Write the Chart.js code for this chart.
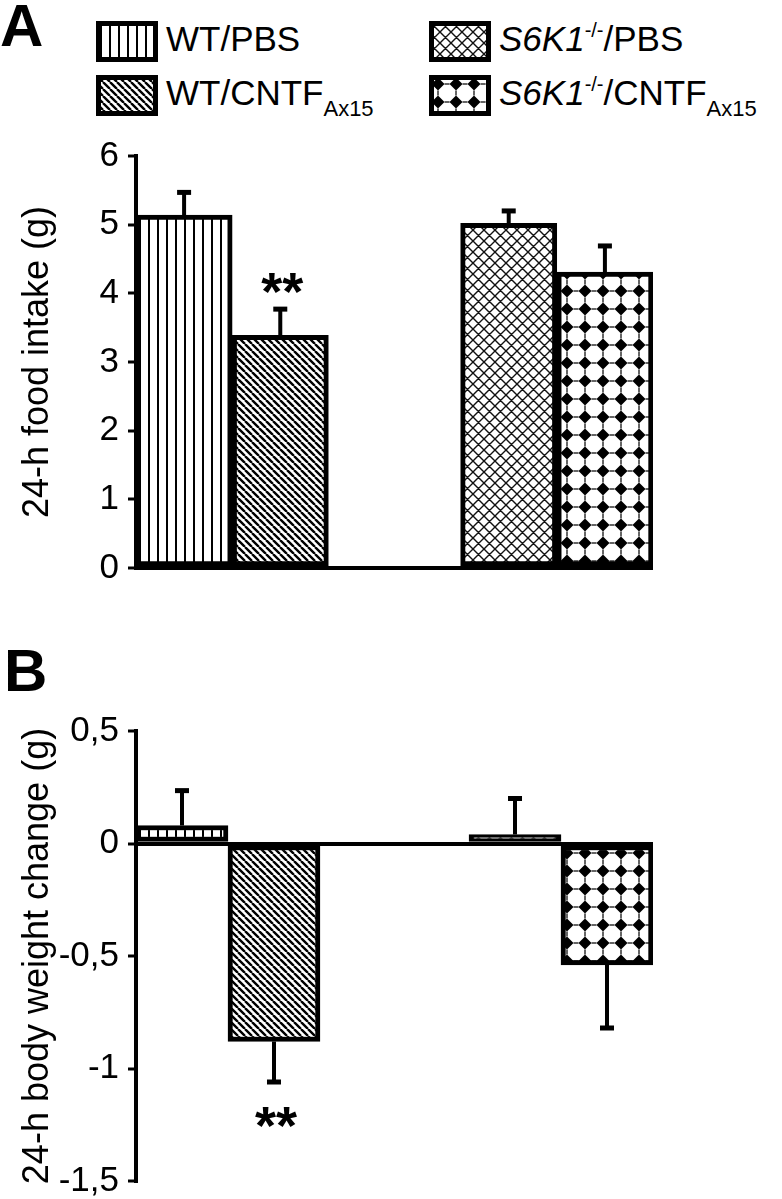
<!DOCTYPE html>
<html>
<head>
<meta charset="utf-8">
<script src="https://cdn.jsdelivr.net/npm/chart.js@4.4.1/dist/chart.umd.min.js"></script>
<style>
  html, body { margin: 0; padding: 0; background: #fff; }
  body { width: 782px; height: 1199px; position: relative; overflow: hidden;
         font-family: "Liberation Sans", Arial, sans-serif; color: #000; }
  .panel { position: absolute; font-weight: bold; font-size: 60px; line-height: 60px; }
  .key { position: absolute; }
  .lab { position: absolute; font-size: 35px; line-height: 35px; white-space: nowrap; }
  .lab sub { font-size: 22px; position: relative; top: 11px; vertical-align: baseline; }
  .lab sup { font-size: 20px; position: relative; top: -14px; vertical-align: baseline; }
  #chartA { position: absolute; left: 0; top: 120px; }
  #chartB { position: absolute; left: 0; top: 700px; }
</style>
</head>
<body>
<div class="panel" style="left:0px; top:-4px;">A</div>
<div class="panel" style="left:4px; top:641px;">B</div>
<div id="legend"></div>
<canvas id="chartA" width="782" height="500"></canvas>
<canvas id="chartB" width="782" height="520"></canvas>
<script>
// groups, in bar order
const groupLabels = [
  'WT/PBS',
  'WT/CNTF<sub>Ax15</sub>',
  '<i>S6K1</i><sup>-/-</sup>/PBS',
  '<i>S6K1</i><sup>-/-</sup>/CNTF<sub>Ax15</sub>'
];

// A: 24-h food intake (g), mean and SEM
const intakeMeans = [5.14, 3.39, 5.02, 4.31];
const intakeErrors = [0.33, 0.38, 0.18, 0.38];
const intakeMarks = ['', '**', '', ''];
const intakeTicks = [0, 1, 2, 3, 4, 5, 6];

// B: 24-h body weight change (g)
const weightMeans = [0.08, -0.88, 0.04, -0.54];
const weightErrors = [0.155, 0.18, 0.16, 0.28];
const weightMarks = ['', '**', '', ''];
const weightTicks = [-1.5, -1, -0.5, 0, 0.5];

const FONT = "'Liberation Sans', Arial, sans-serif";

function makePattern(kind) {
  const c = document.createElement('canvas');
  const g = c.getContext('2d');
  const n = { vertical: 9, diagonal: 7, cross: 11, diamond: 18 }[kind];
  c.width = n; c.height = n;
  g.fillStyle = '#fff';
  g.fillRect(0, 0, n, n);
  g.fillStyle = '#000';
  g.strokeStyle = '#000';
  if (kind === 'vertical') {
    g.fillRect(4, 0, 2, n);
  } else if (kind === 'diagonal') {
    g.lineWidth = 2.4;
    g.beginPath();
    for (const o of [-n, 0, n]) { g.moveTo(o, 0); g.lineTo(o + n, n); }
    g.stroke();
  } else if (kind === 'cross') {
    g.strokeStyle = '#111';
    g.lineWidth = 1.4;
    g.beginPath();
    for (const o of [-n, 0, n]) {
      g.moveTo(o, 0); g.lineTo(o + n, n);
      g.moveTo(o + n, 0); g.lineTo(o, n);
    }
    g.stroke();
  } else {
    g.beginPath();
    g.moveTo(9, 2.5); g.lineTo(15.5, 9); g.lineTo(9, 15.5); g.lineTo(2.5, 9);
    g.closePath();
    g.fill();
    // small spikes towards the neighbours
    g.fillRect(0, 8.4, 2.5, 1.2); g.fillRect(15.5, 8.4, 2.5, 1.2);
    g.fillRect(8.4, 0, 1.2, 2.5); g.fillRect(8.4, 15.5, 1.2, 2.5);
  }
  return g.createPattern(c, 'repeat');
}

const patterns = ['vertical', 'diagonal', 'cross', 'diamond'].map(makePattern);

// legend, two columns
const keyPos = [[96, 21], [96, 75], [429, 21], [429, 75]];
const legend = document.getElementById('legend');
groupLabels.forEach((txt, i) => {
  const [x, y] = keyPos[i];
  const k = document.createElement('canvas');
  k.className = 'key';
  k.width = 62; k.height = 41;
  k.style.left = x + 'px'; k.style.top = y + 'px';
  const g = k.getContext('2d');
  g.fillStyle = patterns[i];
  g.fillRect(0, 0, 62, 41);
  g.strokeStyle = '#000';
  g.lineWidth = 5;
  g.strokeRect(2.5, 2.5, 57, 36);
  legend.appendChild(k);
  const t = document.createElement('div');
  t.className = 'lab';
  t.innerHTML = txt;
  t.style.left = (x + 70) + 'px';
  t.style.top = y + 'px';
  legend.appendChild(t);
});

function barsPlugin(means, errors, marks, markOffset) {
  return {
    id: 'errorBars',
    afterDatasetsDraw(chart) {
      const ctx = chart.ctx;
      const y = chart.scales.y;
      const meta = chart.getDatasetMeta(0);
      ctx.save();
      ctx.strokeStyle = '#000';
      ctx.fillStyle = '#000';
      ctx.lineWidth = 4;
      meta.data.forEach((bar, i) => {
        const v = means[i];
        const dir = v >= 0 ? 1 : -1;
        const yEnd = y.getPixelForValue(v + dir * errors[i]);
        ctx.beginPath();
        ctx.moveTo(bar.x, bar.y);
        ctx.lineTo(bar.x, yEnd);
        ctx.stroke();
        ctx.fillRect(bar.x - 7, yEnd - 2.5, 14, 5);
        if (marks[i]) {
          ctx.font = 'bold 54px ' + FONT;
          ctx.textAlign = 'center';
          ctx.textBaseline = 'alphabetic';
          const m = ctx.measureText(marks[i]);
          const cy = yEnd - dir * markOffset;
          ctx.fillText(marks[i], bar.x + 2,
            cy + (m.actualBoundingBoxAscent - m.actualBoundingBoxDescent) / 2);
        }
      });
      ctx.restore();
    }
  };
}

function panel(id, p) {
  const slot = i => i + 0.5 + (i >= 2 ? p.gap : 0);
  return new Chart(document.getElementById(id).getContext('2d'), {
    type: 'bar',
    data: {
      datasets: [{
        data: p.means.map((v, i) => ({ x: slot(i), y: v })),
        backgroundColor: patterns,
        borderColor: '#000',
        borderWidth: 5,
        borderSkipped: false,
        barPercentage: 1,
        categoryPercentage: 1
      }]
    },
    options: {
      responsive: false,
      animation: false,
      events: [],
      layout: { padding: p.padding },
      plugins: { legend: { display: false }, tooltip: { enabled: false } },
      scales: {
        x: {
          type: 'linear', display: false, offset: false,
          min: 0, max: 4 + p.gap,
          ticks: { stepSize: 100 }
        },
        y: {
          min: p.ticks[0], max: p.ticks[p.ticks.length - 1],
          afterBuildTicks: s => { s.ticks = p.ticks.map(v => ({ value: v })); },
          afterFit: s => { s.width = 136 - p.padding.left; },
          border: { display: true, color: '#000', width: 4 },
          grid: {
            color: c => (c.tick && c.tick.value === 0 ? '#000' : 'rgba(0,0,0,0)'),
            lineWidth: 4,
            drawTicks: true, tickLength: 8, tickWidth: 3, tickColor: '#000'
          },
          ticks: {
            color: '#000', padding: 9,
            font: { family: FONT, size: 35, lineHeight: 1 },
            callback: v => String(v).replace('.', ',')
          },
          title: {
            display: true, text: p.title, color: '#000',
            font: { family: FONT, size: 36 },
            padding: { top: 6, bottom: 0 }
          }
        }
      }
    },
    plugins: [barsPlugin(p.means, p.errors, p.marks, p.markOffset)]
  });
}

panel('chartA', {
  means: intakeMeans, errors: intakeErrors, marks: intakeMarks, ticks: intakeTicks,
  title: '24-h food intake (g)', gap: 1.375, markOffset: 26,
  padding: { top: 36, bottom: 52, left: 10, right: 129 }
});

panel('chartB', {
  means: weightMeans, errors: weightErrors, marks: weightMarks, ticks: weightTicks,
  title: '24-h body weight change (g)', gap: 1.62, markOffset: 35,
  padding: { top: 31, bottom: 39, left: 10, right: 129 }
});
</script>
</body>
</html>
